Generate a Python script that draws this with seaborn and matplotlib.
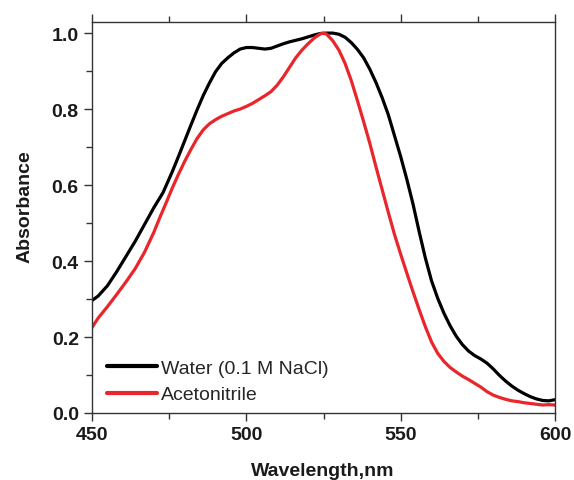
import numpy as np
import pandas as pd
import matplotlib
matplotlib.use("Agg")
import matplotlib.pyplot as plt
import seaborn as sns
from matplotlib.ticker import MultipleLocator

wl_water = [450, 452, 455, 458, 461, 464, 467, 470, 473, 476, 478, 480, 482, 484, 486, 488,
            490, 492, 494, 496, 498, 500, 502, 504, 506, 508, 510, 512, 514, 516, 518, 520,
            522, 524, 526, 528, 530, 532, 534, 536, 538, 540, 542, 544, 546, 548, 550, 552,
            554, 556, 558, 560, 562, 564, 566, 568, 570, 572, 574, 576, 578, 580, 582, 584,
            586, 588, 590, 592, 594, 596, 598, 600]
abs_water = [0.296, 0.308, 0.335, 0.372, 0.412, 0.452, 0.496, 0.54, 0.58, 0.635, 0.675, 0.716,
             0.757, 0.797, 0.835, 0.868, 0.898, 0.92, 0.935, 0.948, 0.958, 0.962, 0.962, 0.96,
             0.958, 0.96, 0.966, 0.972, 0.977, 0.981, 0.985, 0.99, 0.995, 0.999, 1.0, 1.0,
             0.997, 0.989, 0.975, 0.957, 0.935, 0.905, 0.87, 0.83, 0.785, 0.73, 0.675, 0.615,
             0.55, 0.477, 0.408, 0.348, 0.302, 0.263, 0.23, 0.202, 0.18, 0.163, 0.151, 0.142,
             0.131, 0.116, 0.099, 0.084, 0.071, 0.06, 0.051, 0.043, 0.037, 0.033, 0.032, 0.035]

wl_acn = [450, 452, 455, 458, 461, 464, 467, 470, 472, 474, 476, 478, 480, 482, 484, 486,
          488, 490, 492, 494, 496, 498, 500, 502, 504, 506, 508, 510, 512, 514, 516, 518,
          520, 522, 524, 525, 526, 528, 530, 532, 534, 536, 538, 540, 542, 544, 546, 548,
          550, 552, 554, 556, 558, 560, 562, 564, 566, 568, 570, 572, 574, 576, 578, 580,
          582, 584, 586, 588, 590, 592, 594, 596, 598, 600]
abs_acn = [0.225, 0.25, 0.28, 0.312, 0.345, 0.38, 0.423, 0.475, 0.515, 0.553, 0.592, 0.628,
           0.662, 0.693, 0.722, 0.745, 0.761, 0.772, 0.781, 0.788, 0.795, 0.80, 0.807, 0.815,
           0.825, 0.835, 0.846, 0.863, 0.885, 0.91, 0.935, 0.955, 0.972, 0.987, 0.998, 1.0,
           0.997, 0.98, 0.955, 0.92, 0.875, 0.822, 0.767, 0.71, 0.648, 0.588, 0.528, 0.47,
           0.418, 0.368, 0.319, 0.272, 0.227, 0.187, 0.157, 0.136, 0.12, 0.108, 0.097, 0.088,
           0.078, 0.068, 0.056, 0.047, 0.041, 0.036, 0.032, 0.03, 0.027, 0.025, 0.023, 0.021,
           0.022, 0.021]

labels = ["Water (0.1 M NaCl)", "Acetonitrile"]
colors = ["#000000", "#e8262b"]

df = pd.concat([
    pd.DataFrame({"Wavelength": wl_water, "Absorbance": abs_water, "Solvent": labels[0]}),
    pd.DataFrame({"Wavelength": wl_acn, "Absorbance": abs_acn, "Solvent": labels[1]}),
])

sns.set_style("ticks")
plt.rcParams["font.family"] = ["Liberation Sans", "DejaVu Sans"]

fig = plt.figure(figsize=(5.74, 4.81), dpi=100)
ax = fig.add_axes([92/574, 1-414/481, 463/574, (414-22.7)/481])

sns.lineplot(data=df, x="Wavelength", y="Absorbance", hue="Solvent",
             palette=dict(zip(labels, colors)), linewidth=2.3, ax=ax, sort=True,
             estimator=None)

ax.set_xlim(450, 600)
ax.set_ylim(0, 1.03)
ax.xaxis.set_major_locator(MultipleLocator(50))
ax.xaxis.set_minor_locator(MultipleLocator(25))
ax.yaxis.set_major_locator(MultipleLocator(0.2))
ax.yaxis.set_minor_locator(MultipleLocator(0.1))
ax.yaxis.set_major_formatter(matplotlib.ticker.FormatStrFormatter("%.1f"))

for s in ax.spines.values():
    s.set_linewidth(1.0)
    s.set_color("#333333")

ax.tick_params(which="major", length=6, width=1, direction="out", color="#333333",
               top=True, labeltop=False, right=False)
ax.tick_params(which="minor", length=4, width=1, direction="out", color="#333333",
               top=True, right=False)
for lab in ax.get_xticklabels() + ax.get_yticklabels():
    lab.set_fontweight("bold")
    lab.set_fontsize(14)
    lab.set_color("#1a1a1a")

ax.set_xlabel("Wavelength,nm", fontsize=14, fontweight="bold", color="#1a1a1a")
ax.set_ylabel("Absorbance", fontsize=14, fontweight="bold", color="#1a1a1a")
ax.xaxis.set_label_coords(0.498, -0.125)
ax.yaxis.set_label_coords(-0.127, 0.53)

leg = ax.legend(loc="upper left", bbox_to_anchor=(0.032, 0.137), frameon=False,
                fontsize=14, handlelength=2.6, handletextpad=0.2, labelspacing=0.45,
                borderpad=0, borderaxespad=0)
for h in leg.get_lines():
    h.set_linewidth(3)

fig.savefig("out.png", dpi=100)
